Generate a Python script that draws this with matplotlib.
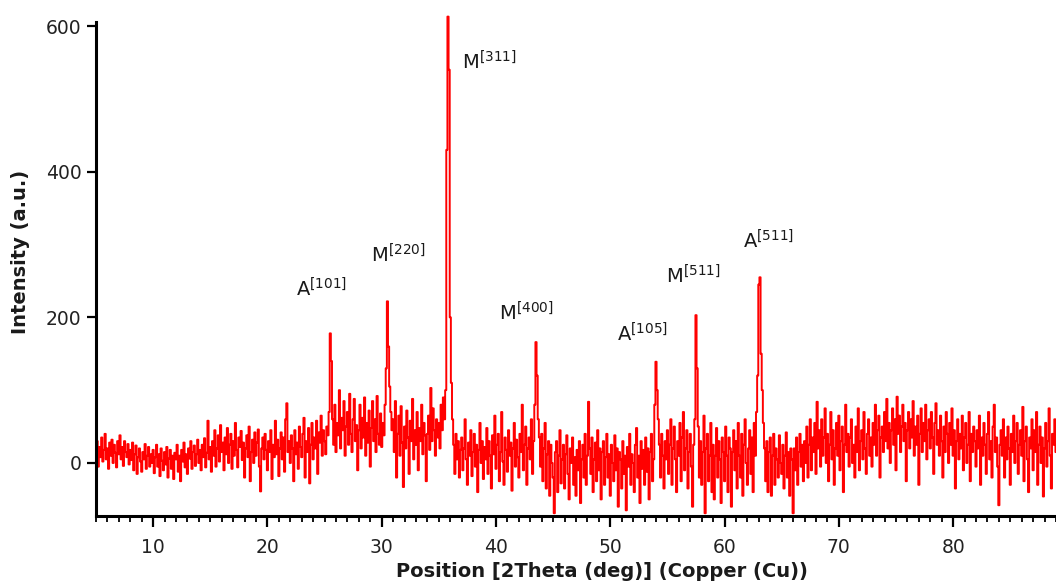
import numpy as np
import matplotlib
matplotlib.use("Agg")
import matplotlib.pyplot as plt
from matplotlib.ticker import MultipleLocator

plt.rcParams['font.family'] = ['DejaVu Sans']
plt.rcParams['mathtext.fontset'] = 'dejavusans'

# 2Theta scan: start, step
theta_start = 5.0
theta_step = 0.1

# intensity, one row per degree (5.0-5.9, 6.0-6.9, ...)
intensity = [
    15, 30, -5, 22, 8, 35, 2, 18, 40, 5,          # 5
    20, -8, 28, 10, 32, 0, 25, 14, -6, 30,        # 6
    12, 38, 5, 22, -4, 30, 15, 8, 26, -2,         # 7
    18, 4, 28, -10, 12, 24, -15, 8, 20, 2,        # 8
    -12, 15, 5, 26, -8, 10, 22, -5, 12, 0,        # 9
    18, -14, 8, 25, -5, 12, -18, 20, 3, -10,      # 10
    15, -2, 22, -20, 6, 18, -8, 10, -22, 14,      # 11
    5, 25, -12, 10, -25, 18, 2, 28, -6, 12,       # 12
    -15, 20, 6, 30, -8, 15, 24, -4, 12, 32,       # 13
    0, 18, -10, 25, 8, 34, -6, 14, 58, 5,         # 14
    22, -12, 30, 10, 45, -5, 20, 38, 2, 52,       # 15
    15, 28, -10, 35, 12, 48, 0, 25, 40, -8,       # 16
    30, 10, 55, 18, -6, 35, 22, 44, 4, 28,        # 17
    -20, 20, 38, 8, 50, -25, 15, 32, 0, 42,       # 18
    10, 28, 46, -5, -39, 20, 35, 5, 40, 18,       # 19
    -10, 30, 15, 45, -22, 25, 8, 58, 12, 32,      # 20
    -18, 20, 42, 5, 35, -12, 60, 82, 15, 30,      # 21
    0, 38, 20, -25, 45, 12, 28, -8, 50, 22,       # 22
    8, 40, 62, -20, 30, 15, 48, -28, 25, 55,      # 23
    5, 35, 20, 58, -15, 42, 28, 65, 10, 45,       # 24
    30, 12, 50, 38, 70, 178, 140, 60, 25, 80,     # 25
    15, 55, 38, 100, 20, 62, 45, 85, 10, 50,      # 26
    70, 25, 95, 40, 15, 60, 88, 30, 52, -10,      # 27
    45, 80, 20, 62, 35, 90, 10, 55, 28, 72,       # 28
    -5, 48, 85, 30, 60, 15, 92, 40, 25, 68,       # 29
    22, 55, 38, 80, 130, 222, 160, 105, 70, 45,   # 30
    60, 15, 85, -20, 40, 65, 10, 78, 28, -33,     # 31
    50, 20, 72, 35, -15, 58, 30, 88, 5, 45,       # 32
    25, 70, -10, 48, 30, 80, 12, 55, 38, -25,     # 33
    40, 65, 18, 103, 30, 75, 45, 10, 60, 35,      # 34
    55, 20, 80, 45, 90, 60, 100, 430, 613, 540,   # 35
    200, 110, 60, 25, -15, 40, 5, 30, -20, 18,    # 36
    35, -10, 20, 60, 5, -30, 28, 10, 45, -18,     # 37
    15, 40, -5, 25, -40, 18, 55, 0, 30, -22,      # 38
    22, 5, 48, -15, 30, 10, -35, 38, 12, 65,      # 39
    -8, 25, 40, -25, 15, 70, 2, -30, 35, 18,      # 40
    -12, 45, 10, 28, -38, 20, 55, -5, 32, 8,      # 41
    -20, 40, 15, 80, -10, 25, 50, -30, 20, 35,    # 42
    5, 60, -15, 30, 80, 166, 120, 60, 35, -5,     # 43
    40, -25, 20, 55, -35, 12, 30, -45, 25, 0,     # 44
    -20, -69, 15, 30, -40, 10, 45, -28, 5, 25,    # 45
    -35, 12, 38, -15, -50, 20, 0, 35, -30, 8,     # 46
    -45, 18, -10, 30, -55, 5, 25, -20, 40, -30,   # 47
    10, 84, 20, -15, 35, -40, 5, 28, -25, 45,     # 48
    -10, 20, -50, 15, 30, -30, 8, 40, -20, 12,    # 49
    -45, 25, 0, -25, 38, -10, 20, -60, 15, 5,     # 50
    -35, 30, -15, 10, -65, 22, -5, 40, -30, 12,   # 51
    0, -40, 25, 48, -20, 10, -55, 30, -8, 18,     # 52
    -30, 35, -12, 20, -50, 15, 40, -25, 5, 80,    # 53
    139, 100, 60, 25, -20, 40, 10, -35, 30, 5,    # 54
    45, -15, 25, 60, -30, 20, 50, 5, -40, 30,     # 55
    10, 55, -25, 35, 70, -10, 20, 45, -35, 15,    # 56
    40, -5, -60, 25, 60, 203, 130, 50, -20, 30,   # 57
    -30, 15, 65, -69, 20, 40, -25, 10, 55, -40,   # 58
    25, -50, 10, 48, -20, 30, 5, -55, 35, 15,     # 59
    -25, 50, 10, -40, 35, 20, -60, 15, 45, -10,   # 60
    30, -35, 55, 10, -20, 40, -45, 25, 60, 0,     # 61
    -30, 20, 45, -15, 35, -40, 55, 10, 70, 120,   # 62
    245, 255, 150, 100, 55, 20, -25, 30, -40, 15, # 63
    35, -45, 10, 40, -30, 20, 5, -20, 38, 0,      # 64
    -15, 25, -35, 10, 42, -20, 15, -45, 20, 5,    # 65
    -69, 20, -10, 35, -30, 15, 40, -5, 25, -25,   # 66
    30, 0, 50, -20, 25, 60, -10, 35, 15, 55,      # 67
    -15, 84, 20, 45, -5, 60, 10, 35, 75, 0,       # 68
    40, -25, 25, 70, 5, 45, -30, 20, 55, 10,      # 69
    65, -10, 30, 50, -40, 25, 80, 15, 40, -5,     # 70
    35, 60, 0, 25, -20, 50, 15, 75, -10, 30,      # 71
    45, 5, 70, 20, -15, 40, 60, 10, 35, -5,       # 72
    55, 25, 80, 10, 45, 65, -20, 35, 50, 15,      # 73
    70, 30, 88, 20, 55, 0, 45, 75, 25, 60,        # 74
    -10, 91, 40, 65, 15, 50, 80, 30, 55, -25,     # 75
    45, 70, 20, 60, 35, 85, 10, 50, 25, 65,       # 76
    -30, 40, 75, 15, 55, 30, 80, 5, 45, 60,       # 77
    20, 70, 35, -15, 55, 82, 25, 45, 10, 65,      # 78
    30, -20, 50, 15, 70, 40, 0, 55, 25, 75,       # 79
    10, 45, -35, 30, 60, 5, 40, 20, 65, -10,      # 80
    35, 55, 0, 25, 70, -25, 40, 15, 50, 30,       # 81
    -5, 45, 20, 65, -30, 35, 10, 55, 25, -15,     # 82
    40, 70, 5, 30, -20, 50, 80, 15, 35, -5,       # 83
    -58, 25, 45, 10, 60, -20, 35, 5, 50, 20,      # 84
    -30, 40, 15, 65, 0, 30, 55, -15, 25, 45,      # 85
    10, 77, -25, 30, 50, 5, -40, 35, 20, 60,      # 86
    -10, 45, 15, 70, -30, 25, 50, 0, 35, -46,     # 87
    20, 55, -5, 30, 75, 10, -35, 40, 25, 60,      # 88
    15,                                           # 89
]

# peak labels
peak_labels = [r'$\mathrm{A}^{[101]}$', r'$\mathrm{M}^{[220]}$', r'$\mathrm{M}^{[311]}$',
               r'$\mathrm{M}^{[400]}$', r'$\mathrm{A}^{[105]}$', r'$\mathrm{M}^{[511]}$',
               r'$\mathrm{A}^{[511]}$']
label_x = [22.5, 29.1, 37.05, 40.3, 50.6, 54.9, 61.6]
label_y = [228, 276, 540, 195, 167, 247, 294]

x_ticks = [10, 20, 30, 40, 50, 60, 70, 80]
y_ticks = [0, 200, 400, 600]

two_theta = theta_start + theta_step * np.arange(len(intensity))

fig = plt.figure(figsize=(10.56, 5.85), dpi=100)
ax = fig.add_axes([96 / 1056, 1 - 516 / 585, 960 / 1056, 494 / 585])

ax.plot(two_theta, intensity, color='#ff0000', lw=1.4, drawstyle='steps-mid',
        clip_on=False)

ax.set_xlim(5, 89)
ax.set_ylim(-72.8, 605.6)
ax.set_xticks(x_ticks)
ax.set_yticks(y_ticks)
ax.xaxis.set_minor_locator(MultipleLocator(1))

for s in ['top', 'right']:
    ax.spines[s].set_visible(False)
for s in ['left', 'bottom']:
    ax.spines[s].set_linewidth(2.2)
    ax.spines[s].set_color('black')

ax.tick_params(axis='both', which='major', direction='out', width=1.6,
               labelsize=13.5, colors='black', labelcolor='#222222')
ax.tick_params(axis='x', which='major', length=8, pad=8)
ax.tick_params(axis='y', which='major', length=6.5, pad=4)
ax.tick_params(axis='x', which='minor', direction='out', length=4.5, width=1.3)

ax.set_xlabel('Position [2Theta (deg)] (Copper (Cu))', fontsize=14, fontweight='bold',
              color='#1a1a1a')
ax.set_ylabel('Intensity (a.u.)', fontsize=14, fontweight='bold', color='#1a1a1a')
ax.xaxis.set_label_coords(0.527, -0.093)
ax.yaxis.set_label_coords(-0.069, 0.534)

for lab, lx, ly in zip(peak_labels, label_x, label_y):
    ax.text(lx, ly, lab, fontsize=14, color='#1a1a1a', ha='left', va='baseline')

fig.savefig('out.png', dpi=100)
